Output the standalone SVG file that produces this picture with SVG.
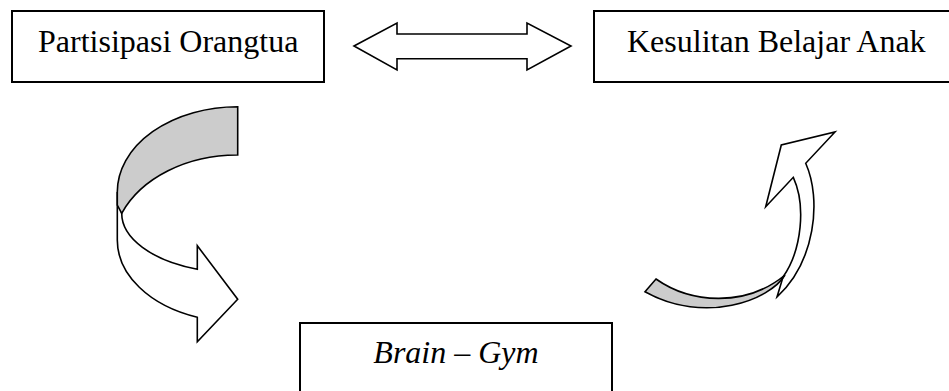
<svg xmlns="http://www.w3.org/2000/svg" width="949" height="391" viewBox="0 0 949 391">
<style>
.box{fill:#fff;stroke:#000;stroke-width:2}
.lbl{font-family:"Liberation Serif","Times New Roman",serif;font-size:32px;fill:#000}
.arr{fill:#fff;stroke:#000;stroke-width:1.6;stroke-linejoin:miter}
.back{fill:#cccccc;stroke:#000;stroke-width:1.6}
</style>
<rect width="949" height="391" fill="#fff"/>
<g id="node-partisipasi">
<rect class="box" x="12" y="11" width="312" height="71"/>
<text class="lbl" x="38" y="52">Partisipasi Orangtua</text>
</g>
<g id="node-kesulitan">
<rect class="box" x="594" y="11" width="360" height="71"/>
<text class="lbl" x="627" y="52">Kesulitan Belajar Anak</text>
</g>
<g id="node-braingym">
<rect class="box" x="300" y="323" width="312" height="80"/>
<text class="lbl" x="456" y="363" text-anchor="middle" font-style="italic">Brain – Gym</text>
</g>
<g id="connectors">
<path class="arr" d="M354,46 L397,23 L397,34 L527,34 L527,23 L571,46 L527,70 L527,58.7 L397,58.7 L397,70 Z"/>
<path class="arr" d="M117.3,192 L117.3,240 A120.4,82 0 0 0 197.3,317.3 L197.3,341.7 L237.7,299.3 L197.3,245.7 L197.3,269.3 A116,59.7 0 0 1 121.7,213.3 Z"/>
<path class="back" d="M237.7,106.7 A120.4,85.3 0 0 0 117.3,192 L117.3,205 L121.7,213.3 A125,95 0 0 1 237.7,155 Z"/>
<path class="arr" d="M783,277 C802,250 806,205 793.3,177.3 L765.7,206.7 L781.3,145 L835,132 L805.7,163.3 C822,200 815,262 777,297 Z"/>
<path class="back" d="M656,279 C690,303 745,308 785,275 C770,300 705,325 645,291.7 Z"/>
</g>
</svg>
